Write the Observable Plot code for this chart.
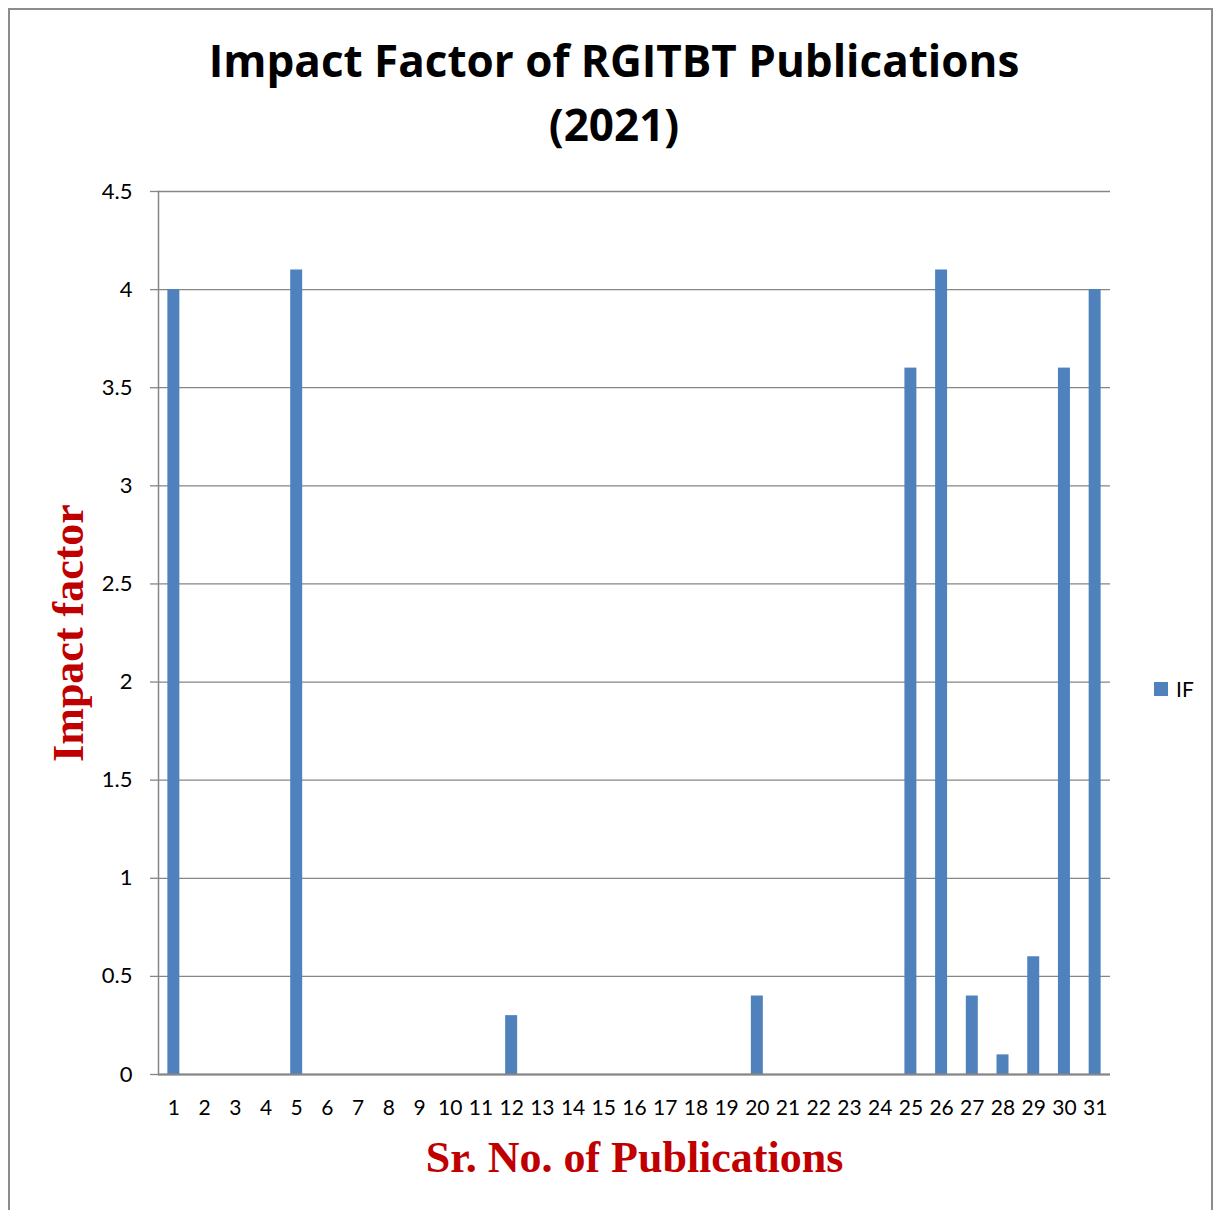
<!DOCTYPE html>
<html>
<head>
<meta charset="utf-8">
<script src="https://cdn.jsdelivr.net/npm/d3@7"></script>
<script src="https://cdn.jsdelivr.net/npm/@observablehq/plot@0.6"></script>
<style>
  html, body { margin: 0; padding: 0; background: #fff; }
  #page { position: relative; width: 1217px; height: 1210px; overflow: hidden; }
  #border { position: absolute; left: 8px; top: 8px; width: 1205px; height: 1210px; border: 2px solid #8c8c8c; box-sizing: border-box; }
  #title { position: absolute; left: 0; top: 28px; width: 1228px; text-align: center; font-family: "Open Sans", sans-serif; font-weight: 700; font-size: 44px; line-height: 64px; color: #000; }
  #chart { position: absolute; left: 0; top: 165px; }
  #legend { position: absolute; left: 1154px; top: 676px; font-family: Lato, sans-serif; font-size: 21px; color: #000; display: flex; align-items: center; }
  #legend .sw { width: 14px; height: 14px; background: #4F81BD; margin-right: 8px; }
</style>
</head>
<body>
<div id="page">
  <div id="border"></div>
  <div id="title">Impact Factor of RGITBT Publications<br>(2021)</div>
  <div id="chart"></div>
  <div id="legend"><div class="sw"></div><span>IF</span></div>
</div>
<script>
const categories = [1,2,3,4,5,6,7,8,9,10,11,12,13,14,15,16,17,18,19,20,21,22,23,24,25,26,27,28,29,30,31];
const impactFactor = [4,0,0,0,4.1,0,0,0,0,0,0,0.3,0,0,0,0,0,0,0,0.4,0,0,0,0,3.6,4.1,0.4,0.1,0.6,3.6,4];
const yTicks = [0,0.5,1,1.5,2,2.5,3,3.5,4,4.5];
const xLabel = ["Sr. No. of Publications"];
const yLabel = ["Impact factor"];

const data = categories.map((c, i) => ({sr: c, IF: impactFactor[i]}));

const chart = Plot.plot({
  width: 1217,
  height: 1045,
  marginLeft: 158,
  marginRight: 107,
  marginTop: 26,
  marginBottom: 136,
  style: {fontFamily: "Lato, sans-serif", background: "transparent", overflow: "visible"},
  x: {type: "band", domain: categories, paddingInner: 0.61, paddingOuter: 0.305, round: false, label: null},
  y: {domain: [0, 4.5], label: null},
  marks: [
    Plot.gridY(yTicks, {stroke: "#868686", strokeOpacity: 1, strokeWidth: 1.3}),
    Plot.axisY(yTicks, {tickSize: 8, tickPadding: 18, fontSize: 22, stroke: "#868686", strokeWidth: 1.3, tickFormat: d => String(d), fill: "#000", label: null}),
    Plot.axisX({tickSize: 0, tickPadding: 26, fontSize: 21, fill: "#000", label: null}),
    Plot.barY(data, {x: "sr", y: "IF", fill: "#4F81BD"}),
    Plot.frame({anchor: "left", stroke: "#868686", strokeWidth: 1.5}),
    Plot.ruleY([0], {stroke: "#868686", strokeWidth: 2}),
    Plot.text(xLabel, {frameAnchor: "bottom", dy: 97, text: d => d, fontFamily: "Liberation Serif, serif", fontWeight: "bold", fontSize: 44, fill: "#C00000"}),
    Plot.text(yLabel, {frameAnchor: "left", dx: -90, rotate: -90, textAnchor: "middle", text: d => d, fontFamily: "Liberation Serif, serif", fontWeight: "bold", fontSize: 44, fill: "#C00000"})
  ]
});
document.getElementById("chart").appendChild(chart);
</script>
</body>
</html>
